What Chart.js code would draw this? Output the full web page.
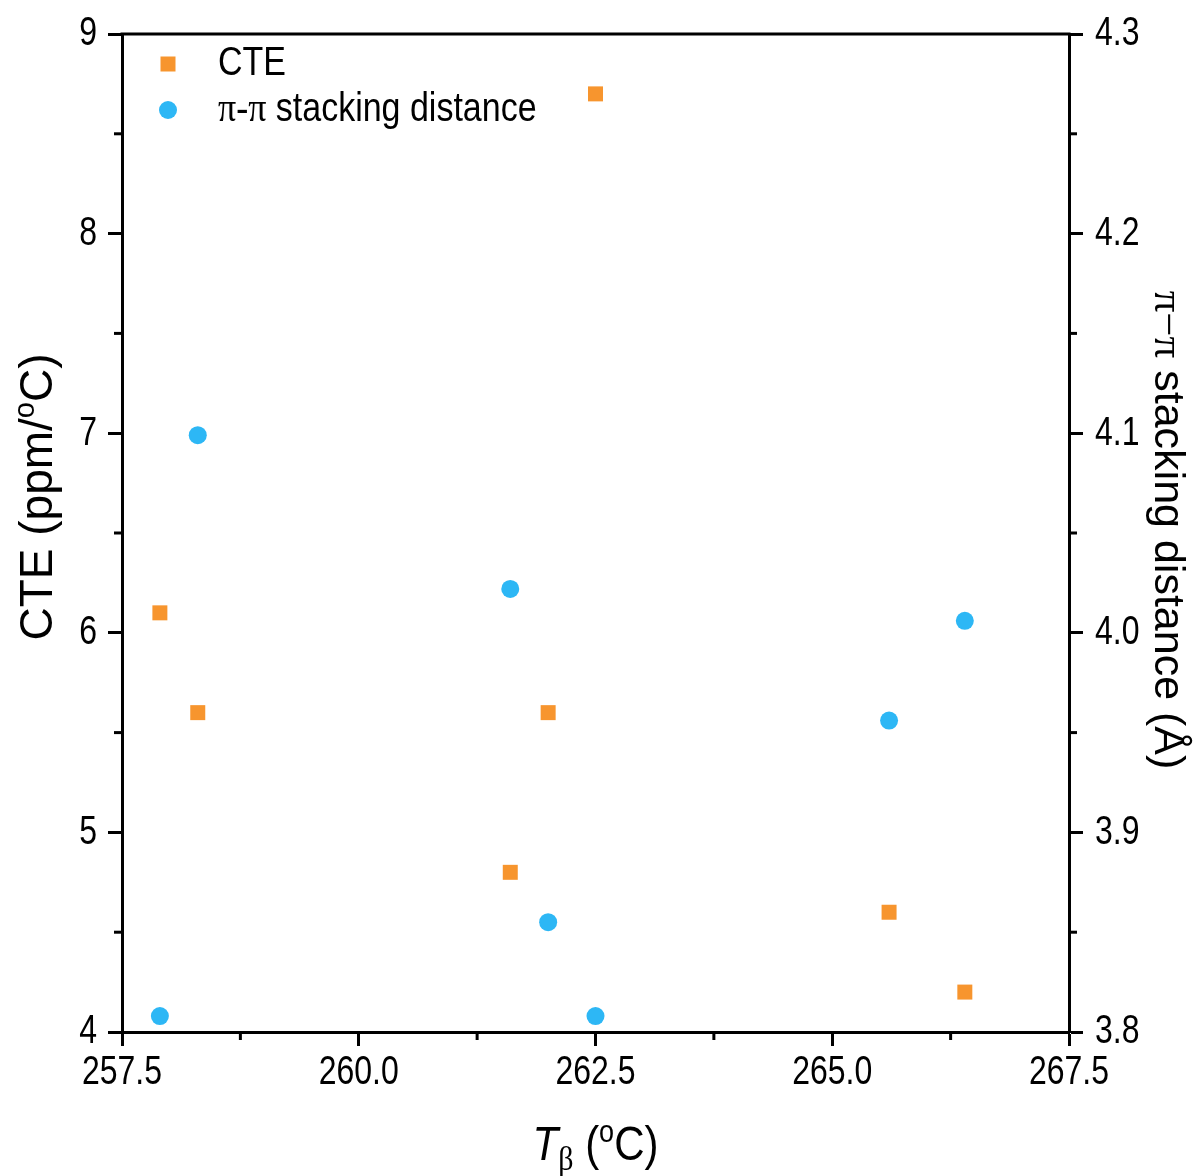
<!DOCTYPE html>
<html>
<head>
<meta charset="utf-8">
<script src="https://cdn.jsdelivr.net/npm/chart.js@4.4.1/dist/chart.umd.min.js"></script>
<style>
  html, body { margin: 0; padding: 0; background: #ffffff; }
  #wrap { width: 1199px; height: 1176px; position: relative; }
</style>
</head>
<body>
<div id="wrap"><canvas id="c"></canvas></div>
<script>
// ---- data ----
const tBeta = [257.9, 258.3, 261.6, 262.0, 262.5, 265.6, 266.4];
const cteValues = [6.1, 5.6, 4.8, 5.6, 8.7, 4.6, 4.2];
const stackingValues = [3.808, 4.099, 4.022, 3.855, 3.808, 3.956, 4.006];
const xRange = [257.5, 267.5];
const cteRange = [4, 9];
const stackRange = [3.8, 4.3];
const seriesNames = ['CTE', 'π-π stacking distance'];

const ORANGE = '#F7952E';
const BLUE = '#2DB7F5';
const SANS = '"Liberation Sans", Arial, sans-serif';
const SERIF = '"Liberation Serif", "Times New Roman", serif';

function drawRich(ctx, parts, x, y, align, baseline) {
  let total = 0;
  const widths = parts.map(p => { ctx.font = p.font; const w = ctx.measureText(p.text).width; total += w; return w; });
  let cx = align === 'center' ? x - total / 2 : x;
  ctx.textBaseline = baseline || 'alphabetic';
  ctx.textAlign = 'left';
  parts.forEach((p, i) => {
    ctx.font = p.font;
    ctx.fillText(p.text, cx, y + (p.dy || 0));
    cx += widths[i];
  });
}

function drawStretched(ctx, text, x, y, align, font, sy) {
  ctx.save();
  ctx.translate(x, y);
  ctx.scale(1, sy);
  ctx.font = font;
  ctx.textAlign = align;
  ctx.textBaseline = 'middle';
  ctx.fillText(text, 0, 0);
  ctx.restore();
}

const TICK_FONT = '32px ' + SANS;
const TICK_SY = 1.28;
const fmt = {
  x: v => Number(v).toFixed(1),
  y: v => String(Math.round(v)),
  y1: v => Number(v).toFixed(1)
};

const decorPlugin = {
  id: 'decor',
  afterDraw(chart) {
    const ctx = chart.ctx;
    const a = chart.chartArea;
    ctx.save();
    ctx.strokeStyle = '#000';
    ctx.fillStyle = '#000';
    ctx.lineWidth = 3;
    // top frame line
    ctx.beginPath();
    ctx.moveTo(a.left - 1.5, a.top);
    ctx.lineTo(a.right + 1.5, a.top);
    ctx.stroke();
    // minor ticks + tick labels
    const minorLen = 8;
    ['x', 'y', 'y1'].forEach(id => {
      const s = chart.scales[id];
      const t = s.ticks;
      for (let i = 0; i < t.length - 1; i++) {
        const mid = (t[i].value + t[i + 1].value) / 2;
        const p = s.getPixelForValue(mid);
        ctx.beginPath();
        if (id === 'x') { ctx.moveTo(p, a.bottom); ctx.lineTo(p, a.bottom + minorLen); }
        else if (id === 'y') { ctx.moveTo(a.left, p); ctx.lineTo(a.left - minorLen, p); }
        else { ctx.moveTo(a.right, p); ctx.lineTo(a.right + minorLen, p); }
        ctx.stroke();
      }
      t.forEach(tk => {
        const p = s.getPixelForValue(tk.value);
        const label = fmt[id](tk.value);
        if (id === 'x') drawStretched(ctx, label, p, a.bottom + 41, 'center', TICK_FONT, TICK_SY);
        else if (id === 'y') drawStretched(ctx, label, a.left - 25, p, 'right', TICK_FONT, TICK_SY);
        else drawStretched(ctx, label, a.right + 26, p, 'left', TICK_FONT, TICK_SY);
      });
    });
    // axis titles
    // left
    ctx.save();
    ctx.translate(52, 497);
    ctx.rotate(-Math.PI / 2);
    drawRich(ctx, [
      { text: 'CTE (ppm/', font: '46px ' + SANS },
      { text: 'o', font: '29px ' + SANS, dy: -18 },
      { text: 'C)', font: '46px ' + SANS }
    ], 0, 0, 'center');
    ctx.restore();
    // right
    ctx.save();
    ctx.translate(1155, 530);
    ctx.rotate(Math.PI / 2);
    drawRich(ctx, [
      { text: 'π−π', font: '43px ' + SERIF },
      { text: ' stacking distance (Å)', font: '43px ' + SANS }
    ], 0, 0, 'center');
    ctx.restore();
    // bottom
    ctx.save();
    ctx.translate((a.left + a.right) / 2, 1160);
    ctx.scale(1, 1.15);
    drawRich(ctx, [
      { text: 'T', font: 'italic 42px ' + SANS },
      { text: 'β', font: '30px ' + SERIF, dy: 9 },
      { text: ' (', font: '42px ' + SANS },
      { text: 'o', font: '27px ' + SANS, dy: -16 },
      { text: 'C)', font: '42px ' + SANS }
    ], 0, 0, 'center');
    ctx.restore();
    // legend
    const ds = chart.data.datasets;
    const lx = 168, ly = [64, 110];
    ctx.fillStyle = ds[0].backgroundColor;
    ctx.fillRect(lx - 7.5, ly[0] - 7.5, 15, 15);
    ctx.fillStyle = ds[1].backgroundColor;
    ctx.beginPath(); ctx.arc(lx, ly[1], 9, 0, Math.PI * 2); ctx.fill();
    ctx.fillStyle = '#000';
    ctx.save();
    ctx.translate(218, ly[0]);
    ctx.scale(1, 1.2);
    drawRich(ctx, [{ text: seriesNames[0], font: '34px ' + SANS }], 0, 0, 'left', 'middle');
    ctx.restore();
    ctx.save();
    ctx.translate(218, ly[1]);
    ctx.scale(1, 1.2);
    drawRich(ctx, [
      { text: 'π-π', font: '36px ' + SERIF },
      { text: ' stacking distance', font: '34px ' + SANS }
    ], 0, 0, 'left', 'middle');
    ctx.restore();
    ctx.restore();
  }
};

const axisCommon = {
  grid: { display: true, drawOnChartArea: false, drawTicks: true, tickLength: 14, tickWidth: 3, tickColor: '#000' },
  border: { display: true, color: '#000', width: 3 },
  title: { display: false }
};

new Chart(document.getElementById('c'), {
  type: 'scatter',
  data: {
    datasets: [
      {
        label: seriesNames[0],
        data: tBeta.map((x, i) => ({ x: x, y: cteValues[i] })),
        yAxisID: 'y',
        pointStyle: 'rect',
        pointRadius: 10.6,
        pointHoverRadius: 10.6,
        backgroundColor: ORANGE,
        borderWidth: 0
      },
      {
        label: seriesNames[1],
        data: tBeta.map((x, i) => ({ x: x, y: stackingValues[i] })),
        yAxisID: 'y1',
        pointStyle: 'circle',
        pointRadius: 9,
        pointHoverRadius: 9,
        backgroundColor: BLUE,
        borderWidth: 0
      }
    ]
  },
  options: {
    responsive: true,
    maintainAspectRatio: false,
    animation: false,
    events: [],
    layout: { padding: { top: 34, left: 0, right: 0, bottom: 0 } },
    plugins: { legend: { display: false }, tooltip: { enabled: false } },
    scales: {
      x: Object.assign({}, axisCommon, {
        type: 'linear', position: 'bottom', min: xRange[0], max: xRange[1],
        ticks: { stepSize: 2.5, display: false },
        afterFit: s => { s.height = 144; }
      }),
      y: Object.assign({}, axisCommon, {
        type: 'linear', position: 'left', min: cteRange[0], max: cteRange[1],
        ticks: { stepSize: 1, display: false },
        afterFit: s => { s.width = 122; }
      }),
      y1: Object.assign({}, axisCommon, {
        type: 'linear', position: 'right', min: stackRange[0], max: stackRange[1],
        ticks: { stepSize: 0.1, display: false },
        afterFit: s => { s.width = 130; }
      })
    }
  },
  plugins: [decorPlugin]
});
</script>
</body>
</html>
